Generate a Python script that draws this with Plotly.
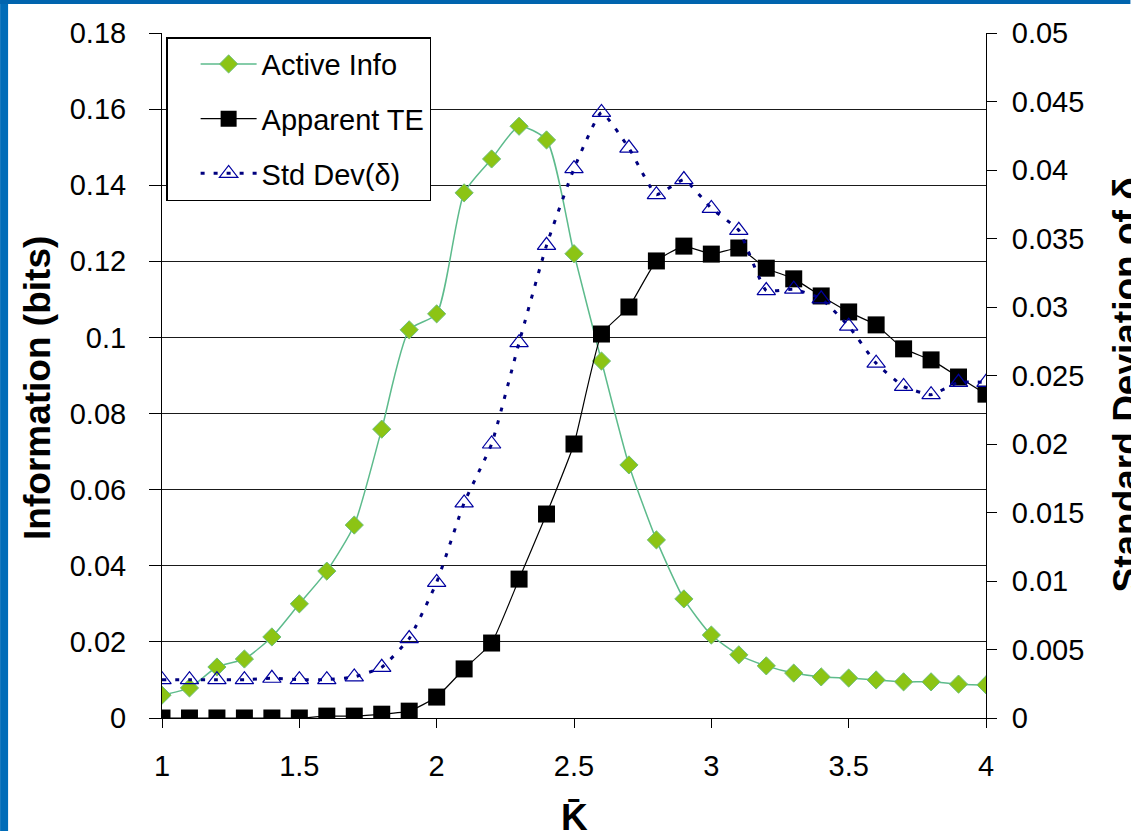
import plotly.graph_objects as go

k_values = [1.0, 1.1, 1.2, 1.3, 1.4, 1.5, 1.6, 1.7, 1.8, 1.9, 2.0, 2.1, 2.2, 2.3, 2.4, 2.5,
            2.6, 2.7, 2.8, 2.9, 3.0, 3.1, 3.2, 3.3, 3.4, 3.5, 3.6, 3.7, 3.8, 3.9, 4.0]

active_info = [0.0060, 0.0079, 0.0134, 0.0155, 0.0213, 0.0300, 0.0386, 0.0507, 0.0759, 0.1020,
               0.1062, 0.1380, 0.1469, 0.1555, 0.1519, 0.1220, 0.0938, 0.0665, 0.0468, 0.0313,
               0.0218, 0.0166, 0.0137, 0.0118, 0.0108, 0.0105, 0.0100, 0.0095, 0.0095, 0.0089,
               0.0087]

apparent_te = [0.0, 0.0, 0.0, 0.0, 0.0, 0.0, 0.0005, 0.0005, 0.0010, 0.0018,
               0.0055, 0.0129, 0.0197, 0.0365, 0.0536, 0.0720, 0.1009, 0.1080, 0.1201, 0.1240,
               0.1219, 0.1235, 0.1182, 0.1154, 0.1109, 0.1067, 0.1033, 0.0970, 0.0941, 0.0896,
               0.0851]

std_dev = [0.0028, 0.0028, 0.0028, 0.0028, 0.0029, 0.0028, 0.0028, 0.0030, 0.0037, 0.0058,
           0.0099, 0.0157, 0.0200, 0.0274, 0.0345, 0.0401, 0.0442, 0.0416, 0.0382, 0.0393,
           0.0372, 0.0356, 0.0312, 0.0313, 0.0306, 0.0286, 0.0259, 0.0242, 0.0236, 0.0245,
           0.0245]

x_tick_vals = [1, 1.5, 2, 2.5, 3, 3.5, 4]
x_tick_text = ["1", "1.5", "2", "2.5", "3", "3.5", "4"]
y_tick_vals = [0, 0.02, 0.04, 0.06, 0.08, 0.10, 0.12, 0.14, 0.16, 0.18]
y_tick_text = ["0", "0.02", "0.04", "0.06", "0.08", "0.1", "0.12", "0.14", "0.16", "0.18"]
y2_tick_vals = [0, 0.005, 0.01, 0.015, 0.02, 0.025, 0.03, 0.035, 0.04, 0.045, 0.05]
y2_tick_text = ["0", "0.005", "0.01", "0.015", "0.02", "0.025", "0.03", "0.035", "0.04", "0.045", "0.05"]

FONT = "Arial, Liberation Sans, sans-serif"
PW = 824.5   # plot width in px
PH = 685.0   # plot height in px
L, T, B = 162, 33, 113

fig = go.Figure()

fig.add_trace(go.Scatter(
    x=k_values, y=active_info, name="Active Info", mode="lines+markers",
    line=dict(color="#5dbb8c", width=1.5, shape="spline", smoothing=0.6),
    marker=dict(symbol="diamond", size=14, color="#8cc414",
                line=dict(color="#6cbf7c", width=1)),
    legendgroup="a", yaxis="y"))

fig.add_trace(go.Scatter(
    x=k_values, y=apparent_te, name="Apparent TE", mode="lines+markers",
    line=dict(color="#000000", width=1.2, shape="spline", smoothing=0.4),
    marker=dict(symbol="square", size=17, color="#000000"),
    legendgroup="b", yaxis="y"))

fig.add_trace(go.Scatter(
    x=k_values, y=std_dev, name="Std Dev(δ)", mode="lines+markers",
    line=dict(color="#00007f", width=3, dash="4px,9px", shape="spline", smoothing=0.4),
    marker=dict(symbol="triangle-up-open", size=16, color="#0000a0",
                line=dict(color="#0000a0", width=1.2)),
    legendgroup="c", yaxis="y2"))

fig.update_layout(
    width=1131, height=831,
    margin=dict(l=L, r=1131 - L - PW, t=T, b=B, pad=0),
    paper_bgcolor="white", plot_bgcolor="white",
    font=dict(family=FONT, size=29, color="#000000"),
    showlegend=True,
    legend=dict(x=0.005, y=0.994, xanchor="left", yanchor="top",
                bordercolor="#000000", borderwidth=1.5, bgcolor="white",
                font=dict(family=FONT, size=29), tracegroupgap=14,
                itemwidth=56, indentation=28),
    xaxis=dict(range=[1, 4], tickvals=x_tick_vals, ticktext=x_tick_text,
               showgrid=False, zeroline=False, showline=True, linecolor="#000000",
               linewidth=1, ticks="outside", ticklen=9, tickcolor="#000000",
               ticklabelstandoff=13, tickfont=dict(size=29)),
    yaxis=dict(range=[0, 0.18], tickvals=y_tick_vals, ticktext=y_tick_text,
               showgrid=True, gridcolor="#1a1a1a", gridwidth=1, zeroline=False,
               showline=True, linecolor="#000000", linewidth=1,
               ticks="outside", ticklen=12, tickcolor="#000000",
               ticklabelstandoff=17, tickfont=dict(size=29)),
    yaxis2=dict(range=[0, 0.05], tickvals=y2_tick_vals, ticktext=y2_tick_text,
                overlaying="y", side="right", showgrid=False, zeroline=False,
                showline=True, linecolor="#000000", linewidth=1,
                ticks="outside", ticklen=10, tickcolor="#000000",
                ticklabelstandoff=9, tickfont=dict(size=29)),
    yaxis3=dict(range=[0, 0.18], tickvals=y_tick_vals, overlaying="y", side="left",
                anchor="x", showgrid=False, zeroline=False, showline=False,
                ticks="inside", ticklen=4, tickcolor="#000000", showticklabels=False),
    yaxis4=dict(range=[0, 0.05], tickvals=y2_tick_vals, overlaying="y", side="right",
                anchor="x", showgrid=False, zeroline=False, showline=False,
                ticks="inside", ticklen=10, tickcolor="#000000", showticklabels=False),
    annotations=[
        dict(text="<b>Information (bits)</b>", textangle=-90, showarrow=False,
             xref="paper", yref="paper", x=(38 - L) / PW, y=0.482,
             xanchor="center", yanchor="middle", font=dict(family=FONT, size=37)),
        dict(text="<b>Standard Deviation of δ</b>", textangle=-90, showarrow=False,
             xref="paper", yref="paper", x=(1127 - L) / PW, y=0.486,
             xanchor="center", yanchor="middle", font=dict(family=FONT, size=37)),
        dict(text="<b>K\u0304</b>", showarrow=False,
             xref="paper", yref="paper", x=0.501, y=(718 - 817) / PH,
             xanchor="center", yanchor="middle", font=dict(family=FONT, size=37)),
    ],
    shapes=[
        dict(type="rect", xref="paper", yref="paper",
             x0=-L / PW, x1=(8 - L) / PW, y0=-B / PH, y1=718 / PH,
             fillcolor="#006cb8", line=dict(width=0), layer="above"),
        dict(type="rect", xref="paper", yref="paper",
             x0=-L / PW, x1=(1131 - L) / PW, y0=(718 - 4) / PH, y1=718 / PH,
             fillcolor="#0064ae", line=dict(width=0), layer="above"),
    ],
)

fig.write_html("out.html", config={"displayModeBar": False},
               post_script="document.body.style.margin='0';document.body.style.overflow='hidden';")
